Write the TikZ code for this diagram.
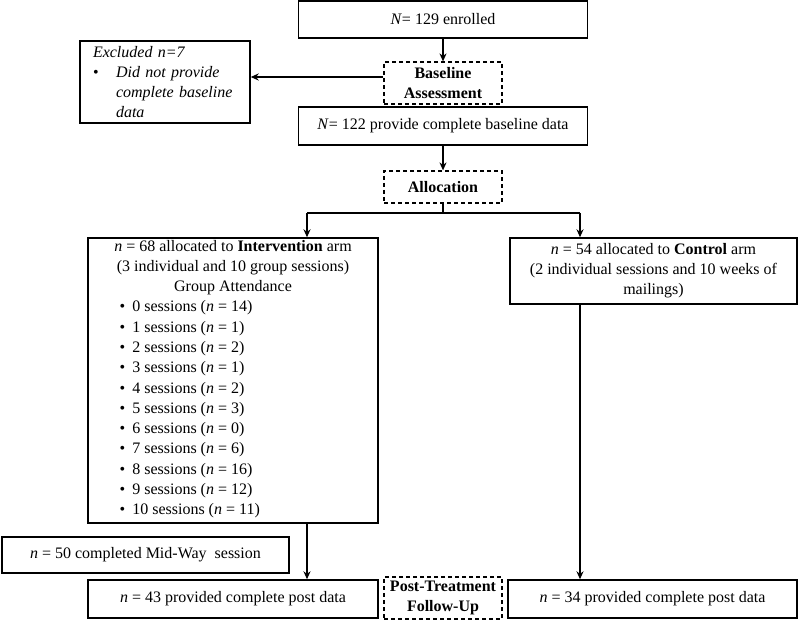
\documentclass[tikz,border=0pt]{standalone}
\usepackage{fontspec}
\setmainfont{Liberation Serif}
\usetikzlibrary{arrows.meta}

\begin{document}
\begin{tikzpicture}[x=1pt, y=-1pt, line width=1.4pt, >={Stealth[length=8pt,width=7pt]},
      txt/.style={inner sep=0pt, align=center, font=\fontsize{16}{20}\selectfont},
      box/.style={txt, draw},
      dbox/.style={box, line width=1.2pt, dash pattern=on 4pt off 3pt, font=\fontsize{16}{20}\selectfont\bfseries}]
      \useasboundingbox (0,0) rectangle (800,620);
      \node[box, minimum width=289pt, minimum height=37pt] (enr) at (443,19.5) {\emph{N}= 129 enrolled};
      \node[dbox, minimum width=118pt, minimum height=42pt] (base) at (443,83) {Baseline\\Assessment};
      \node[box, minimum width=170pt, minimum height=82pt, text width=144pt, align=left] (excl) at (165,82)
        {\itshape Excluded n=7\\\makebox[23pt][l]{\upshape\textbullet}Did not provide\\\hspace*{23pt}complete baseline\\\hspace*{23pt}data};
      \node[box, minimum width=289pt, minimum height=38pt] (n122) at (443,126) {\emph{N}= 122 provide complete baseline data};
      \node[dbox, minimum width=118pt, minimum height=32pt] (alloc) at (443,187) {Allocation};
      \node[box, minimum width=290pt, minimum height=285pt] (intv) at (233,380.5) {};
      \node[txt] (ihead) at (233,268) {\emph{n} = 68 allocated to \textbf{Intervention} arm\\(3 individual and 10 group sessions)\\Group Attendance};
      \foreach \k/\m [count=\i] in {0/14,1/1,2/2,3/1,4/2,5/3,6/0,7/6,8/16,9/12,10/11}
        \node[txt, anchor=west] (s\k) at (119,{308+20.3*(\i-1)}) {\textbullet\hspace{7pt}\k\ sessions (\emph{n} = \m)};
      \node[box, minimum width=287pt, minimum height=66pt] (ctrl) at (653.5,271) {\emph{n} = 54 allocated to \textbf{Control} arm\\(2 individual sessions and 10 weeks of\\mailings)};
      \node[box, minimum width=287pt, minimum height=36pt] (mid) at (145.5,555) {\emph{n} = 50 completed Mid-Way~ session};
      \node[box, minimum width=290pt, minimum height=38pt] (p43) at (233,599) {\emph{n} = 43 provided complete post data};
      \node[dbox, minimum width=118pt, minimum height=42pt] (fup) at (443,598) {Post-Treatment\\Follow-Up};
      \node[box, minimum width=289pt, minimum height=38pt] (p34) at (652.5,599) {\emph{n} = 34 provided complete post data};
      \coordinate (bw) at ([yshift=6pt]base.west);
      \coordinate (split) at (443,213);
      \coordinate (li) at (307,213);
      \coordinate (ri) at (580,213);
      \draw[->] (enr) -- (base);
      \draw[->] (bw) -- (bw -| excl.east);
      \draw[->] (n122) -- (alloc);
      \draw (alloc) -- (split);
      \draw (li) -- (ri);
      \draw[->] (li) -- (li |- intv.north);
      \draw[->] (ri) -- (ri |- ctrl.north);
      \draw[->] (li |- intv.south) -- (li |- p43.north);
      \draw[->] (ri |- ctrl.south) -- (ri |- p34.north);
\end{tikzpicture}
\end{document}
